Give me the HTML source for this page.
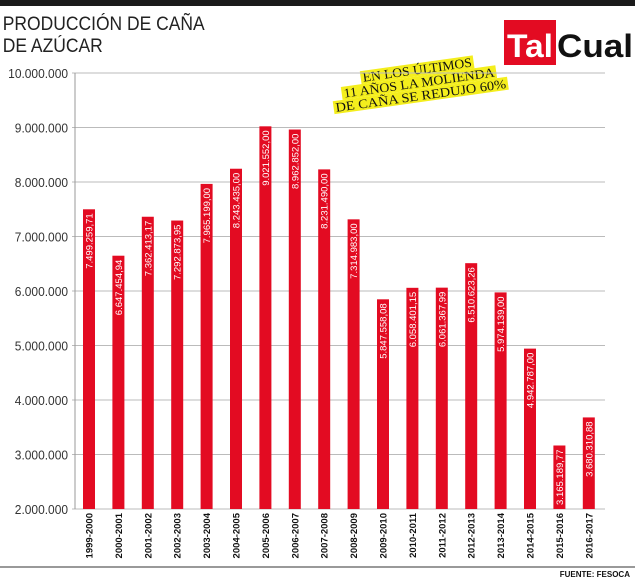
<!DOCTYPE html>
<html><head><meta charset="utf-8"><style>
body{margin:0;background:#fff;}
svg{display:block;font-family:"Liberation Sans",Arial,sans-serif;}
</style></head><body>
<svg id="c" width="635" height="580" xmlns="http://www.w3.org/2000/svg">
<rect x="0" y="0" width="635" height="6" fill="#1a1a1a"/>
<text x="3" y="30" font-size="19" fill="#222" transform="scale(0.92,1)">PRODUCCIÓN DE CAÑA</text>
<text x="3" y="52" font-size="19" fill="#222" transform="scale(0.92,1)">DE AZÚCAR</text>
<g>
<rect x="504" y="20" width="52" height="45" fill="#e30b22"/>
<text x="507" y="57" font-size="32" font-weight="bold" fill="#fff" textLength="46" lengthAdjust="spacingAndGlyphs">Tal</text>
<text x="557" y="57" font-size="32" font-weight="bold" fill="#111" textLength="76" lengthAdjust="spacingAndGlyphs">Cual</text>
</g>
<g transform="translate(420,90) rotate(-8)" font-family="Liberation Serif,serif" font-size="13" fill="#111" text-anchor="middle">
<rect x="-57" y="-27" width="114" height="13" fill="#f4ee1d"/>
<rect x="-78" y="-14" width="156" height="13" fill="#f4ee1d"/>
<rect x="-88" y="-1" width="176" height="13" fill="#f4ee1d"/>
<text x="0" y="-16" textLength="110" lengthAdjust="spacingAndGlyphs">EN LOS ÚLTIMOS</text>
<text x="0" y="-3" textLength="152" lengthAdjust="spacingAndGlyphs">11 AÑOS LA MOLIENDA</text>
<text x="0" y="10" textLength="172" lengthAdjust="spacingAndGlyphs">DE CAÑA SE REDUJO 60%</text>
</g>
<g id="grid"></g><g id="bars"></g>
<line x1="0" y1="567" x2="635" y2="567" stroke="#999" stroke-width="2"/>
<text x="630" y="577" font-size="8" font-weight="bold" text-anchor="end" fill="#111">FUENTE: FESOCA</text>
</svg>
<script>
const categories=["1999-2000","2000-2001","2001-2002","2002-2003","2003-2004","2004-2005","2005-2006","2006-2007","2007-2008","2008-2009","2009-2010","2010-2011","2011-2012","2012-2013","2013-2014","2014-2015","2015-2016","2016-2017"];
const values=[7499259.71,6647454.94,7362413.17,7292873.95,7965199.00,8243435.00,9021552.00,8962852.00,8231490.00,7314983.00,5847558.08,6058401.15,6061367.99,6510623.26,5974139.00,4942787.00,3165189.77,3680310.88];
const valueLabels=["7.499.259,71","6.647.454,94","7.362.413,17","7.292.873,95","7.965.199,00","8.243.435,00","9.021.552,00","8.962.852,00","8.231.490,00","7.314.983,00","5.847.558,08","6.058.401,15","6.061.367,99","6.510.623,26","5.974.139,00","4.942.787,00","3.165.189,77","3.680.310,88"];
const ticks=[2000000,3000000,4000000,5000000,6000000,7000000,8000000,9000000,10000000];
const tickLabels=["2.000.000","3.000.000","4.000.000","5.000.000","6.000.000","7.000.000","8.000.000","9.000.000","10.000.000"];
const NS="http://www.w3.org/2000/svg";
const y=v=>509-(v-2000000)/1000000*54.5;
const x=i=>89+i*29.4;
function mk(t,a,p){const e=document.createElementNS(NS,t);for(const k in a)e.setAttribute(k,a[k]);p.appendChild(e);return e;}
const g=document.getElementById('grid'),b=document.getElementById('bars');
ticks.forEach((t,i)=>{
 const l=mk('line',{x1:72,x2:605,y1:y(t),y2:y(t),stroke:'#bbb','stroke-width':1},g);
 
 
 const tx=mk('text',{x:68/0.92,y:y(t)+5,'font-size':13,'text-anchor':'end',fill:'#333',transform:'scale(0.92,1)'},g);
 tx.textContent=tickLabels[i];
 
 
});
const ax=mk('line',{x1:75,x2:75,y1:y(10000000),y2:y(2000000),stroke:'#999'},g);


categories.forEach((c,i)=>{
 const r=mk('rect',{x:x(i)-6,y:y(values[i]),width:12,height:y(2000000)-y(values[i]),fill:'#e30b22'},b);
 
 
 const vl=mk('text',{transform:`translate(${x(i)+3.5},${y(values[i])+4}) rotate(-90)`,'font-size':9.5,'text-anchor':'end',fill:'#fff'},b);
 vl.textContent=valueLabels[i];
 
 
 const cl=mk('text',{transform:`translate(${x(i)+3.5},${y(2000000)+4}) rotate(-90)`,'font-size':9.5,'font-weight':'bold','text-anchor':'end',fill:'#111'},b);
 cl.textContent=c;
 
 
});
</script>
</body></html>
